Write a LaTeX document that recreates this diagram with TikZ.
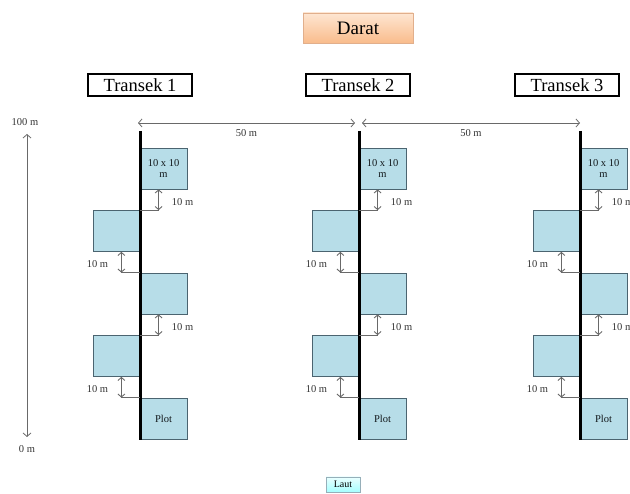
\documentclass[tikz,border=0pt]{standalone}
\usepackage{fontspec}
\setmainfont{Liberation Serif}
\usetikzlibrary{arrows.meta,calc}
\definecolor{plotfill}{RGB}{183,221,232}
\definecolor{plotdraw}{RGB}{75,100,112}
\definecolor{arrgray}{RGB}{105,105,105}
\definecolor{daratdraw}{RGB}{225,175,140}
\definecolor{darattop}{RGB}{254,230,210}
\definecolor{daratbot}{RGB}{249,188,140}
\definecolor{lautdraw}{RGB}{150,175,185}
\tikzset{
  plotbox/.style={draw=plotdraw, fill=plotfill, line width=0.8pt, minimum width=47pt, minimum height=41pt, inner sep=0pt, font=\fontsize{10.5}{11}\selectfont, text=black!75!plotdraw, align=center},
  transline/.style={line width=3pt, black},
  gaparrow/.style={arrgray, line width=0.9pt, {Straight Barb[length=3pt,width=7pt]}-{Straight Barb[length=3pt,width=7pt]}},
  dimarrow/.style={arrgray, line width=0.8pt, {Straight Barb[length=3.5pt,width=8pt]}-{Straight Barb[length=3.5pt,width=8pt]}},
  tickline/.style={arrgray, line width=0.8pt},
  small/.style={font=\fontsize{10.5}{11}\selectfont, text=black!80, inner sep=0pt},
  titlebox/.style={draw=black, line width=1.5pt, minimum width=104pt, minimum height=22pt, inner sep=0pt, font=\fontsize{18.5}{19}\selectfont},
}
\begin{document}
\begin{tikzpicture}[x=1pt,y=-1pt]
\useasboundingbox (0,0) rectangle (630,494);
% Darat / Laut
\node[draw=daratdraw, line width=0.8pt, top color=darattop, bottom color=daratbot, minimum width=110pt, minimum height=30pt, inner sep=0pt, font=\fontsize{19}{20}\selectfont] (darat) at (358,28) {Darat};
\node[draw=lautdraw, line width=0.6pt, top color=cyan!8, bottom color=cyan!35, minimum width=34pt, minimum height=15pt, inner sep=0pt, font=\fontsize{10}{10}\selectfont] (laut) at (343,484.5) {Laut};
% left vertical scale
\coordinate (v100) at (27,134);
\coordinate (v0) at (27,437);
\draw[dimarrow] (v100) -- (v0);
\node[small] (l100) at (25,122) {100 m};
\node[small] (l0) at (27,449) {0 m};
% horizontal 50 m arrows
\coordinate (ha) at (138,123);
\coordinate (hb) at (355,123);
\coordinate (hc) at (362,123);
\coordinate (hd) at (580,123);
\draw[dimarrow] (ha) -- (hb) node[midway, small, yshift=-10pt] (d1) {50 m};
\draw[dimarrow] (hc) -- (hd) node[midway, small, yshift=-10pt] (d2) {50 m};
% transects
\foreach \t/\X/\T in {1/140/140,2/359/358,3/580/567}{
  \node[titlebox] (tr\t) at (\T,85) {Transek \t};
  \node[plotbox] (p\t-1) at (\X+23.5,168.5) {10 x 10\\m};
  \node[plotbox] (p\t-2) at (\X-23.5,231) {};
  \node[plotbox] (p\t-3) at (\X+23.5,293.5) {};
  \node[plotbox] (p\t-4) at (\X-23.5,356) {};
  \node[plotbox] (p\t-5) at (\X+23.5,418.5) {Plot};
  \coordinate (top\t) at (\X,131);
  \coordinate (bot\t) at (\X,440);
  \draw[transline] (top\t) -- (bot\t);
  % right-side gaps
  \foreach \a/\b in {1/2,3/4}{
    \coordinate (ga\t-\a) at ($(p\t-\a.south west)+(19,0)$);
    \coordinate (gb\t-\a) at (ga\t-\a |- p\t-\b.north);
    \draw[tickline] (p\t-\b.north east) -- (gb\t-\a);
    \draw[gaparrow] (ga\t-\a) -- (gb\t-\a) node[midway, small, xshift=24pt, yshift=-2pt] {10 m};
  }
  % left-side gaps
  \foreach \a/\b in {2/3,4/5}{
    \coordinate (ga\t-\a) at ($(p\t-\a.south east)+(-19,0)$);
    \coordinate (gb\t-\a) at (ga\t-\a |- p\t-\b.north);
    \draw[tickline] (p\t-\b.north west) -- (gb\t-\a);
    \draw[gaparrow] (ga\t-\a) -- (gb\t-\a) node[midway, small, xshift=-24pt, yshift=-2pt] {10 m};
  }
}
\end{tikzpicture}
\end{document}
